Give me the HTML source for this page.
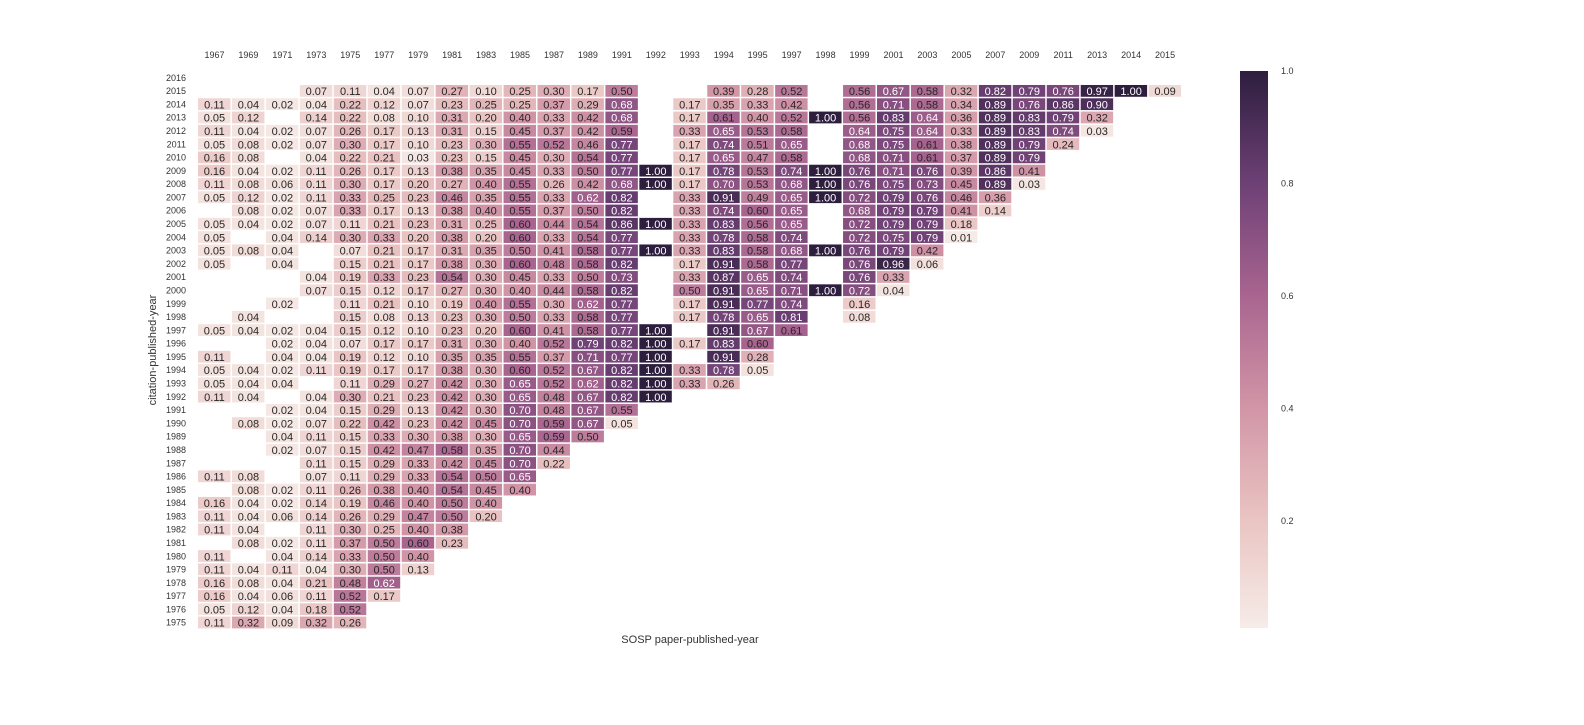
<!DOCTYPE html>
<html><head><meta charset="utf-8"><style>
html,body{margin:0;padding:0;background:#fff;}
svg text{font-family:"Liberation Sans",Arial,sans-serif;}
</style></head><body>
<svg id="chart" width="1584" height="720" xmlns="http://www.w3.org/2000/svg">
<defs>
<linearGradient id="cbgrad" x1="0" y1="1" x2="0" y2="0">
<stop offset="0" stop-color="#f6ece8"/><stop offset="0.2" stop-color="#e9c3c1"/><stop offset="0.4" stop-color="#d194a6"/>
<stop offset="0.6" stop-color="#a8648f"/><stop offset="0.8" stop-color="#6d4075"/><stop offset="1" stop-color="#2d1e3e"/>
</linearGradient>
</defs>
<g id="cells"></g>
<g id="xticks"></g>
<g id="yticks"></g>
<text x="690" y="643" font-size="11" fill="#333" text-anchor="middle">SOSP paper-published-year</text>
<text x="0" y="0" font-size="11" fill="#333" text-anchor="middle" transform="translate(156,350) rotate(-90)">citation-published-year</text>
<rect x="1240" y="71" width="28" height="557" fill="url(#cbgrad)"/>
<g id="cbticks"></g>
</svg>
<script>
const columns = [1967,1969,1971,1973,1975,1977,1979,1981,1983,1985,1987,1989,1991,1992,1993,1994,1995,1997,1998,1999,2001,2003,2005,2007,2009,2011,2013,2014,2015];
const rows = [2016,2015,2014,2013,2012,2011,2010,2009,2008,2007,2006,2005,2004,2003,2002,2001,2000,1999,1998,1997,1996,1995,1994,1993,1992,1991,1990,1989,1988,1987,1986,1985,1984,1983,1982,1981,1980,1979,1978,1977,1976,1975];
const _ = null;
const values = [
[],
[_,_,_,.07,.11,.04,.07,.27,.10,.25,.30,.17,.50,_,_,.39,.28,.52,_,.56,.67,.58,.32,.82,.79,.76,.97,1.00,.09],
[.11,.04,.02,.04,.22,.12,.07,.23,.25,.25,.37,.29,.68,_,.17,.35,.33,.42,_,.56,.71,.58,.34,.89,.76,.86,.90],
[.05,.12,_,.14,.22,.08,.10,.31,.20,.40,.33,.42,.68,_,.17,.61,.40,.52,1.00,.56,.83,.64,.36,.89,.83,.79,.32],
[.11,.04,.02,.07,.26,.17,.13,.31,.15,.45,.37,.42,.59,_,.33,.65,.53,.58,_,.64,.75,.64,.33,.89,.83,.74,.03],
[.05,.08,.02,.07,.30,.17,.10,.23,.30,.55,.52,.46,.77,_,.17,.74,.51,.65,_,.68,.75,.61,.38,.89,.79,.24],
[.16,.08,_,.04,.22,.21,.03,.23,.15,.45,.30,.54,.77,_,.17,.65,.47,.58,_,.68,.71,.61,.37,.89,.79],
[.16,.04,.02,.11,.26,.17,.13,.38,.35,.45,.33,.50,.77,1.00,.17,.78,.53,.74,1.00,.76,.71,.76,.39,.86,.41],
[.11,.08,.06,.11,.30,.17,.20,.27,.40,.55,.26,.42,.68,1.00,.17,.70,.53,.68,1.00,.76,.75,.73,.45,.89,.03],
[.05,.12,.02,.11,.33,.25,.23,.46,.35,.55,.33,.62,.82,_,.33,.91,.49,.65,1.00,.72,.79,.76,.46,.36],
[_,.08,.02,.07,.33,.17,.13,.38,.40,.55,.37,.50,.82,_,.33,.74,.60,.65,_,.68,.79,.79,.41,.14],
[.05,.04,.02,.07,.11,.21,.23,.31,.25,.60,.44,.54,.86,1.00,.33,.83,.56,.65,_,.72,.79,.79,.18],
[.05,_,.04,.14,.30,.33,.20,.38,.20,.60,.33,.54,.77,_,.33,.78,.58,.74,_,.72,.75,.79,.01],
[.05,.08,.04,_,.07,.21,.17,.31,.35,.50,.41,.58,.77,1.00,.33,.83,.58,.68,1.00,.76,.79,.42],
[.05,_,.04,_,.15,.21,.17,.38,.30,.60,.48,.58,.82,_,.17,.91,.58,.77,_,.76,.96,.06],
[_,_,_,.04,.19,.33,.23,.54,.30,.45,.33,.50,.73,_,.33,.87,.65,.74,_,.76,.33],
[_,_,_,.07,.15,.12,.17,.27,.30,.40,.44,.58,.82,_,.50,.91,.65,.71,1.00,.72,.04],
[_,_,.02,_,.11,.21,.10,.19,.40,.55,.30,.62,.77,_,.17,.91,.77,.74,_,.16],
[_,.04,_,_,.15,.08,.13,.23,.30,.50,.33,.58,.77,_,.17,.78,.65,.81,_,.08],
[.05,.04,.02,.04,.15,.12,.10,.23,.20,.60,.41,.58,.77,1.00,_,.91,.67,.61],
[_,_,.02,.04,.07,.17,.17,.31,.30,.40,.52,.79,.82,1.00,.17,.83,.60],
[.11,_,.04,.04,.19,.12,.10,.35,.35,.55,.37,.71,.77,1.00,_,.91,.28],
[.05,.04,.02,.11,.19,.17,.17,.38,.30,.60,.52,.67,.82,1.00,.33,.78,.05],
[.05,.04,.04,_,.11,.29,.27,.42,.30,.65,.52,.62,.82,1.00,.33,.26],
[.11,.04,_,.04,.30,.21,.23,.42,.30,.65,.48,.67,.82,1.00],
[_,_,.02,.04,.15,.29,.13,.42,.30,.70,.48,.67,.55],
[_,.08,.02,.07,.22,.42,.23,.42,.45,.70,.59,.67,.05],
[_,_,.04,.11,.15,.33,.30,.38,.30,.65,.59,.50],
[_,_,.02,.07,.15,.42,.47,.58,.35,.70,.44],
[_,_,_,.11,.15,.29,.33,.42,.45,.70,.22],
[.11,.08,_,.07,.11,.29,.33,.54,.50,.65],
[_,.08,.02,.11,.26,.38,.40,.54,.45,.40],
[.16,.04,.02,.14,.19,.46,.40,.50,.40],
[.11,.04,.06,.14,.26,.29,.47,.50,.20],
[.11,.04,_,.11,.30,.25,.40,.38],
[_,.08,.02,.11,.37,.50,.60,.23],
[.11,_,.04,.14,.33,.50,.40],
[.11,.04,.11,.04,.30,.50,.13],
[.16,.08,.04,.21,.48,.62],
[.16,.04,.06,.11,.52,.17],
[.05,.12,.04,.18,.52],
[.11,.32,.09,.32,.26]
];
const cbTicks = [0.2,0.4,0.6,0.8,1.0];

const NS="http://www.w3.org/2000/svg";
const L=197.5, T=71.2, PW=33.95, PH=13.29;
const VMIN=0.01, VMAX=1.0, CBTOP=71, CBBOT=628;
const xPos = i => L + i*PW;
const yPos = j => T + j*PH;
const stops=[[0,[246,236,232]],[0.2,[233,195,193]],[0.4,[209,148,166]],[0.6,[168,100,143]],[0.8,[109,64,117]],[1,[45,30,62]]];
function color(v){
  let t=Math.max(0,Math.min(1,v));
  for(let k=1;k<stops.length;k++){
    if(t<=stops[k][0]){const a=stops[k-1],b=stops[k];const f=(t-a[0])/(b[0]-a[0]);
      const c=a[1].map((x,m)=>Math.round(x+(b[1][m]-x)*f));return `rgb(${c.join(',')})`;}
  }
  return 'rgb(45,30,62)';
}
function mk(tag,attrs,parent){const e=document.createElementNS(NS,tag);for(const k in attrs)e.setAttribute(k,attrs[k]);parent.appendChild(e);return e;}
const gc=document.getElementById('cells');
values.forEach((row,j)=>{
  row.forEach((v,i)=>{
    if(v===null||v===undefined) return;
    const r=mk('rect',{x:xPos(i)+0.5,y:yPos(j)+0.5,width:PW-1.5,height:PH-1.5,fill:color(v)},gc);
    
    
    const t=mk('text',{x:xPos(i)+PW/2,y:yPos(j)+PH/2+4,'font-size':11,'text-anchor':'middle',fill:v>=0.62?'#fff':'#262626'},gc);
    
    
    t.textContent=v.toFixed(2);
  });
});
const gx=document.getElementById('xticks');
columns.forEach((c,i)=>{
  const t=mk('text',{x:xPos(i)+PW/2,y:58,'font-size':9,'text-anchor':'middle',fill:'#333'},gx);
  
  
  t.textContent=c;
});
const gy=document.getElementById('yticks');
rows.forEach((r,j)=>{
  const t=mk('text',{x:186,y:yPos(j)+PH/2+3,'font-size':9,'text-anchor':'end',fill:'#333'},gy);
  
  
  t.textContent=r;
});
const gcb=document.getElementById('cbticks');
cbTicks.forEach(v=>{
  const y=CBBOT-(v-VMIN)/(VMAX-VMIN)*(CBBOT-CBTOP);
  const t=mk('text',{x:1281,y:y+3,'font-size':9,fill:'#333'},gcb);
  
  
  t.textContent=v.toFixed(1);
});
</script>
</body></html>
